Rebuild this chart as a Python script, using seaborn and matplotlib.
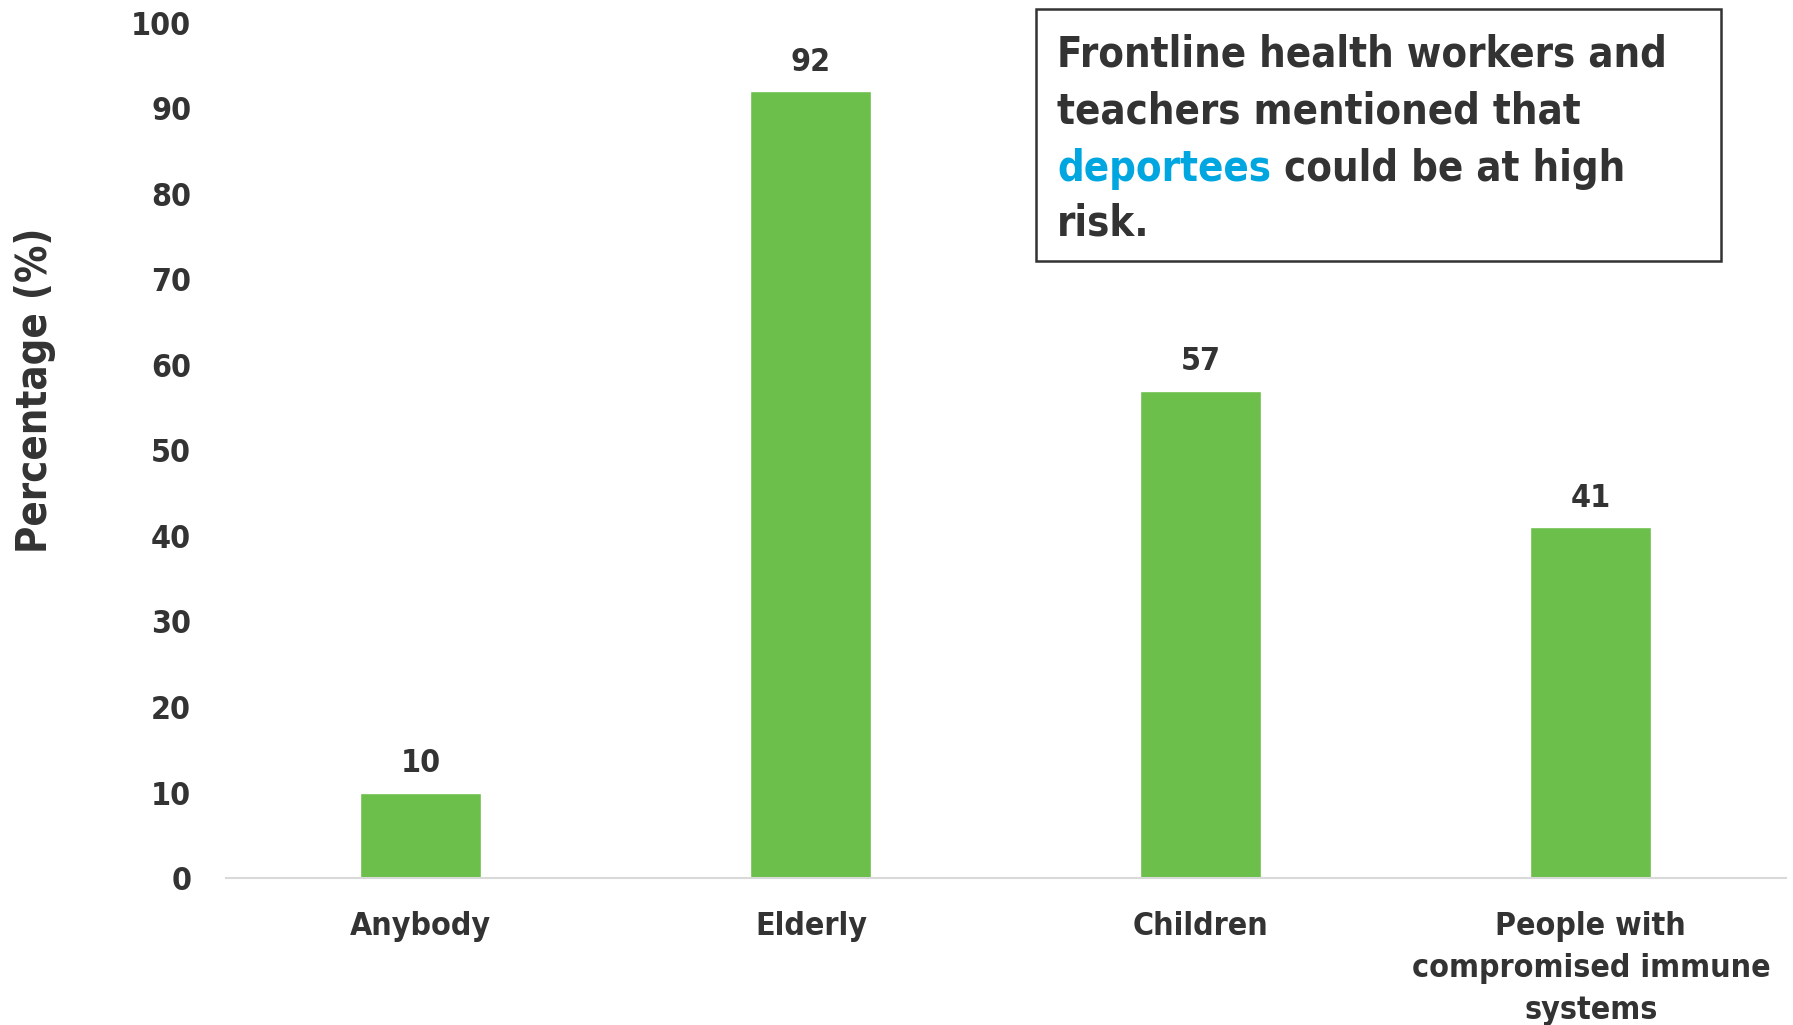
import matplotlib
matplotlib.use("Agg")
import matplotlib.pyplot as plt
import seaborn as sns
import pandas as pd
from matplotlib.patches import Rectangle

# Data
categories = ["Anybody", "Elderly", "Children", "People with\ncompromised immune\nsystems"]
percentages = [10, 92, 57, 41]
y_ticks = [0, 10, 20, 30, 40, 50, 60, 70, 80, 90, 100]

df = pd.DataFrame({"group": categories, "pct": percentages})

sns.set_style("white")
plt.rcParams["font.family"] = ["DejaVu Sans"]
plt.rcParams["font.stretch"] = "condensed"
plt.rcParams["font.weight"] = "bold"

txt_col = "#333333"
bar_col = "#6cbf4a"

fig = plt.figure(figsize=(17.93, 10.25), dpi=100)
ax = fig.add_axes([0.126, 0.1434, 0.87, 0.8342])

sns.barplot(data=df, x="group", y="pct", color=bar_col, width=0.31,
            saturation=1, ax=ax)

ax.set_ylim(0, 100)
ax.set_yticks(y_ticks)
ax.set_xlim(-0.5, len(categories) - 0.5)
ax.tick_params(axis="y", labelsize=23, labelcolor=txt_col, length=0, pad=25)
ax.tick_params(axis="x", labelsize=23, labelcolor=txt_col, length=0, pad=24)
for lbl in ax.get_yticklabels():
    lbl.set_fontweight("bold")
for lbl in ax.get_xticklabels():
    lbl.set_fontweight("bold")
    lbl.set_linespacing(1.45)
ax.set_xlabel("")
ax.set_ylabel("Percentage (%)", fontsize=30, fontweight="bold", color=txt_col)
ax.yaxis.set_label_coords(-0.109, 0.57)

for s in ["top", "right", "left"]:
    ax.spines[s].set_visible(False)
ax.spines["bottom"].set_color("#d9d9d9")
ax.spines["bottom"].set_linewidth(1.5)

# value labels
for i, v in enumerate(percentages):
    ax.text(i, v + 1.6, str(v), ha="center", va="bottom", fontsize=23,
            fontweight="bold", color=txt_col)

# annotation box
W, H = 1793, 1025
fig.patches.append(Rectangle((1036 / W, 1 - 261 / H), 685 / W, 252 / H,
                             transform=fig.transFigure, fill=False,
                             edgecolor="#333333", linewidth=1.8))

fs = 30
x0 = 1057 / W
lines_y = [66, 124, 181, 236]
fig.text(x0, 1 - lines_y[0] / H, "Frontline health workers and", fontsize=fs,
         fontweight="bold", color=txt_col, va="baseline")
fig.text(x0, 1 - lines_y[1] / H, "teachers mentioned that", fontsize=fs,
         fontweight="bold", color=txt_col, va="baseline")
t1 = fig.text(x0, 1 - lines_y[2] / H, "deportees", fontsize=fs,
              fontweight="bold", color="#00a6e0", va="baseline")
fig.canvas.draw()
bb = t1.get_window_extent(renderer=fig.canvas.get_renderer())
fig.text(bb.x1 / W, 1 - lines_y[2] / H, " could be at high", fontsize=fs,
         fontweight="bold", color=txt_col, va="baseline")
fig.text(x0, 1 - lines_y[3] / H, "risk.", fontsize=fs,
         fontweight="bold", color=txt_col, va="baseline")

fig.savefig("out.png", dpi=100)
